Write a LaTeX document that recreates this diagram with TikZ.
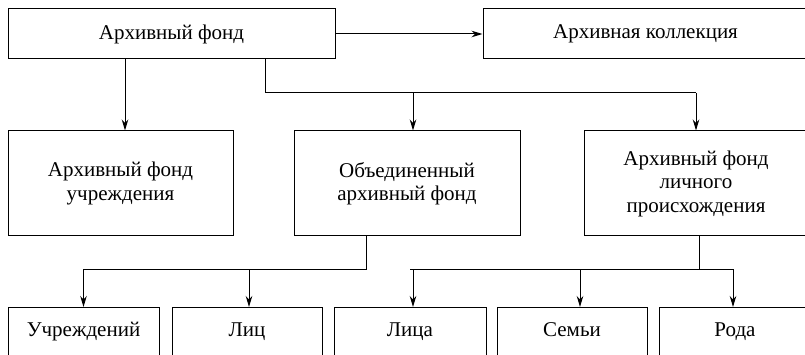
\documentclass[tikz,border=0pt]{standalone}
\usepackage{fontspec}
\setmainfont{Liberation Serif}
\usetikzlibrary{arrows.meta}
\begin{document}
\begin{tikzpicture}[x=1pt,y=-1pt,
  box/.style={draw,line width=1pt,inner sep=0pt,font=\fontsize{21}{23.5}\selectfont},
  leaf/.style={box,anchor=north,minimum height=60,text height=15pt,text depth=18pt},
  arr/.style={line width=1pt,-{Stealth[length=11pt,width=6.5pt,inset=3.5pt]}},
  link/.style={line width=1pt}]
\useasboundingbox[clip] (0,0) rectangle (805,355);
% top row
\node[box,minimum width=327,minimum height=50] (af) at (171.5,34) {Архивный фонд};
\node[box,minimum width=325,minimum height=50] (ak) at (645.5,34) {Архивная коллекция};
% middle row
\node[box,minimum width=225,minimum height=105,align=center] (r1) at (120.5,183.5) {Архивный фонд\\учреждения};
\node[box,minimum width=226,minimum height=105,align=center] (r2) at (407,183.5) {Объединенный\\архивный фонд};
\node[box,minimum width=224,minimum height=105,align=center] (r3) at (696,183.5) {Архивный фонд\\личного\\происхождения};
% bottom row, its boxes run on below the lower edge
\node[leaf,minimum width=151] (b1) at (83.5,307) {Учреждений};
\node[leaf,minimum width=150] (b2) at (247,307) {Лиц};
\node[leaf,minimum width=152] (b3) at (410,307) {Лица};
\node[leaf,minimum width=150] (b4) at (572,307) {Семьи};
\node[leaf,minimum width=152] (b5) at (735,307) {Рода};
% branch points
\coordinate (xr1) at (125,0);
\coordinate (xr2) at (413,0);
\coordinate (xr3) at (696,0);
\coordinate (sa) at (265,93);
\coordinate (sb) at (366,269);
\coordinate (sc) at (699,269);
\coordinate (xb2) at (249,0);
\coordinate (xb4) at (580,0);
\coordinate (xb5) at (733,0);
% connectors
\draw[arr] (af) -- (ak);
\draw[arr] (af.south -| xr1) -- (r1.north -| xr1);
\draw[link] (af.south -| sa) -- (sa) -- (sa -| xr3);
\draw[arr] (sa -| xr2) -- (r2.north -| xr2);
\draw[arr] (sa -| xr3) -- (r3.north -| xr3);
\draw[link] (r2.south -| sb) -- (sb) -- (sb -| b1);
\draw[arr] (sb -| b1) -- (b1.north);
\draw[arr] (sb -| xb2) -- (b2.north -| xb2);
\draw[link] (r3.south -| sc) -- (sc);
\draw[link] (sc -| b3) -- (sc -| xb5);
\draw[arr] (sc -| xr2) -- (b3.north -| xr2);
\draw[arr] (sc -| xb4) -- (b4.north -| xb4);
\draw[arr] (sc -| xb5) -- (b5.north -| xb5);
\end{tikzpicture}
\end{document}
